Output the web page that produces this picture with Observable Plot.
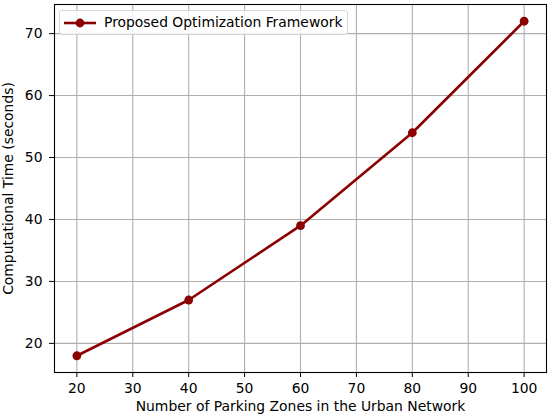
<!DOCTYPE html>
<html>
<head>
<meta charset="utf-8">
<script src="https://cdn.jsdelivr.net/npm/d3@7"></script>
<script src="https://cdn.jsdelivr.net/npm/@observablehq/plot@0.6"></script>
<style>
  html, body { margin: 0; padding: 0; background: #fff; }
  #wrap { position: relative; width: 550px; height: 418px; font-family: "DejaVu Sans", sans-serif; }
  #legend { position: absolute; left: 59px; top: 10px; width: 289px; height: 25px;
    border: 1px solid #d6d6d6; border-radius: 3px; background: rgba(255,255,255,0.8);
    box-sizing: border-box; }
  #legend svg { position: absolute; left: 3px; top: 3px; }
  #legend span { position: absolute; left: 44px; top: 3px; font-size: 13.9px; line-height: 17px; color: #000; white-space: nowrap; }
</style>
</head>
<body>
<div id="wrap"></div>
<script>
const zones = [20, 40, 60, 80, 100];
const times = [18, 27, 39, 54, 72];
const xTicks = [20, 30, 40, 50, 60, 70, 80, 90, 100];
const yTicks = [20, 30, 40, 50, 60, 70];
const seriesName = "Proposed Optimization Framework";
const xLabel = "Number of Parking Zones in the Urban Network";
const yLabel = "Computational Time (seconds)";
const color = "#8b0000";

const data = zones.map((z, i) => ({zone: z, time: times[i]}));

const chart = Plot.plot({
  width: 550,
  height: 418,
  marginLeft: 54,
  marginRight: 4,
  marginTop: 4,
  marginBottom: 46,
  style: {fontFamily: "DejaVu Sans, sans-serif", fontSize: "13.9px", color: "#000", background: "#fff"},
  x: {domain: [16, 104]},
  y: {domain: [15.3, 74.7]},
  marks: [
    Plot.gridX(xTicks, {stroke: "#b0b0b0", strokeOpacity: 1, strokeWidth: 1.1}),
    Plot.gridY(yTicks, {stroke: "#b0b0b0", strokeOpacity: 1, strokeWidth: 1.1}),
    Plot.axisX(xTicks, {tickSize: 5, tickPadding: 6, fontSize: 13.9, label: xLabel, labelAnchor: "center", labelArrow: "none", labelOffset: 38}),
    Plot.axisY(yTicks, {tickSize: 5, tickPadding: 7, fontSize: 13.9, label: yLabel, labelAnchor: "center", labelArrow: "none", labelOffset: 51}),
    Plot.frame({stroke: "#000", strokeWidth: 1.1}),
    Plot.line(data, {x: "zone", y: "time", stroke: color, strokeWidth: 2.6}),
    Plot.dot(data, {x: "zone", y: "time", fill: color, r: 4.4})
  ]
});

const wrap = document.getElementById("wrap");
wrap.appendChild(chart);
const legend = document.createElement("div");
legend.id = "legend";
legend.innerHTML = `<svg width="36" height="18"><line x1="1" y1="9" x2="33" y2="9" stroke="${color}" stroke-width="2.6"/><circle cx="17" cy="9" r="4.4" fill="${color}"/></svg><span></span>`;
legend.querySelector("span").textContent = seriesName;
wrap.appendChild(legend);
</script>
</body>
</html>
